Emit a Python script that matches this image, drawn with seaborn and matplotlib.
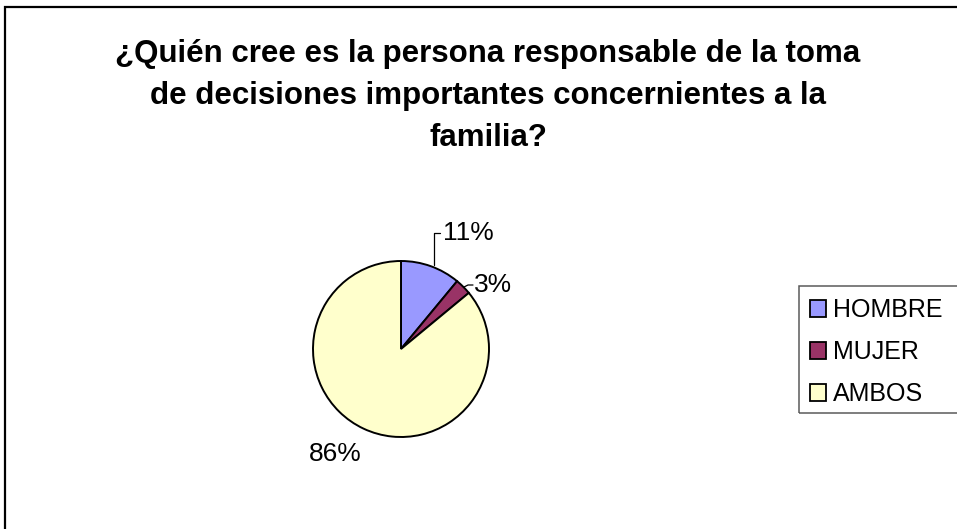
import matplotlib
matplotlib.use("Agg")
import matplotlib.pyplot as plt
import seaborn as sns
from matplotlib.patches import Patch, Rectangle

categories = ["HOMBRE", "MUJER", "AMBOS"]
values = [11, 3, 86]
colors = ["#9999FF", "#993366", "#FFFFCC"]
title = "¿Quién cree es la persona responsable de la toma\nde decisiones importantes concernientes a la\nfamilia?"

sns.set_theme(style="white")
plt.rcParams["font.family"] = ["Liberation Sans", "DejaVu Sans"]
plt.rcParams["text.color"] = "black"

W, H = 957, 529
fig = plt.figure(figsize=(W / 100, H / 100), dpi=100)

def fpx(x, y):
    return (x / W, 1 - y / H)

# outer chart-area border (cropped on right and bottom)
fig.patches.append(Rectangle(fpx(5, 540), 1.1, (540 - 7) / H, transform=fig.transFigure,
                             fill=False, edgecolor="black", linewidth=1.6))
# legend frame (cropped on the right)
fig.patches.append(Rectangle(fpx(799, 413), 0.3, (413 - 286) / H, transform=fig.transFigure,
                             fill=False, edgecolor="#5a5a5a", linewidth=1.1))

cx, cy, r = 401, 349, 88
ax = fig.add_axes([(cx - r) / W, (H - cy - r) / H, 2 * r / W, 2 * r / H])
wedges, _ = ax.pie(values, colors=colors, startangle=90, counterclock=False,
                   wedgeprops=dict(edgecolor="black", linewidth=1.4))
ax.set_xlim(-1, 1)
ax.set_ylim(-1, 1)
ax.set_aspect("equal")
ax.axis("off")

def px(x, y):
    return ((x - cx) / r, (cy - y) / r)

# labels with leader lines
lab = [f"{v}%" for v in values]
ax.plot(*zip(px(434, 265), px(434, 233), px(440, 233)), color="black", lw=0.9, clip_on=False)
ax.text(*px(443, 233), lab[0], fontsize=19, ha="left", va="center")
ax.plot(*zip(px(464, 287), px(468, 285), px(473, 285)), color="black", lw=0.9, clip_on=False)
ax.text(*px(474, 285), lab[1], fontsize=19, ha="left", va="center")
ax.text(*px(335, 454), lab[2], fontsize=19, ha="center", va="center")

fig.text(*fpx(488, 96), title, fontsize=22.5, fontweight="bold", ha="center", va="center",
         linespacing=1.51)

handles = [Patch(facecolor=c, edgecolor="black", linewidth=1.3) for c in colors]
leg = fig.legend(handles, categories, loc="center left", bbox_to_anchor=fpx(810, 352),
                 frameon=False, fontsize=18, handlelength=0.65, handleheight=0.65,
                 handletextpad=0.28, labelspacing=0.72, borderpad=0, borderaxespad=0)

fig.savefig("out.png", dpi=100)
